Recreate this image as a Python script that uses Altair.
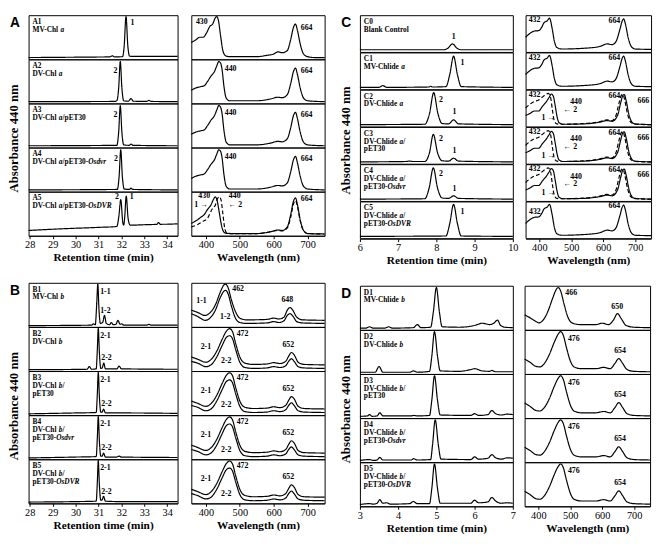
import altair as alt
import pandas as pd

# ============ Panel A : chromatograms (retention time, min) ============
A_samples = ["A1", "A2", "A3", "A4", "A5"]
# sample labels: lines made of (text, italic) pieces
A_names = [[[("A1", 0)], [("MV-Chl ", 0), ("a", 1)]],
           [[("A2", 0)], [("DV-Chl ", 0), ("a", 1)]],
           [[("A3", 0)], [("DV-Chl ", 0), ("a", 1), ("/pET30", 0)]],
           [[("A4", 0)], [("DV-Chl ", 0), ("a", 1), ("/pET30-", 0), ("Osdvr", 1)]],
           [[("A5", 0)], [("DV-Chl ", 0), ("a", 1), ("/pET30-", 0), ("OsDVR", 1)]]]
A1_t = [27.95, 30.5, 31.5, 31.6, 31.7, 32.05, 32.12, 32.2, 32.28, 32.36, 32.7, 34.45]
A1_v = [0.04, 0.05, 0.055, 0.08, 0.055, 0.06, 0.30, 0.97, 0.30, 0.07, 0.065, 0.065]
A2_t = [27.95, 31.7, 31.8, 31.88, 31.95, 32.02, 32.1, 32.3, 32.42, 32.52, 33.1, 33.2, 33.3, 34.45]
A2_v = [0.04, 0.045, 0.06, 0.35, 0.95, 0.35, 0.06, 0.05, 0.11, 0.05, 0.045, 0.07, 0.045, 0.04]
A3_t = [27.95, 31.8, 31.88, 31.95, 32.02, 32.1, 32.35, 32.42, 32.5, 34.45]
A3_v = [0.04, 0.05, 0.35, 0.95, 0.35, 0.06, 0.05, 0.08, 0.05, 0.04]
A4_t = [27.95, 31.82, 31.9, 31.97, 32.04, 32.12, 32.35, 32.42, 32.5, 34.45]
A4_v = [0.04, 0.05, 0.35, 0.95, 0.35, 0.06, 0.05, 0.08, 0.05, 0.04]
A5_t = [27.95, 29.5, 31.0, 31.8, 31.89, 31.97, 32.06, 32.1, 32.14, 32.21, 32.29, 32.38, 33.0, 33.55, 33.62, 33.7, 34.45]
A5_v = [0.12, 0.16, 0.19, 0.21, 0.45, 0.82, 0.30, 0.24, 0.40, 0.90, 0.40, 0.24, 0.25, 0.26, 0.30, 0.26, 0.27]
A_chrom_peaks = [("A1", 32.48, 0.82, "1"), ("A2", 31.74, 0.74, "2"), ("A3", 31.74, 0.74, "2"),
                 ("A4", 31.76, 0.74, "2"), ("A5", 31.8, 0.88, "2"), ("A5", 32.45, 0.88, "1")]

# ============ Panel A : absorption spectra (wavelength, nm) ============
MVa_w = [357, 370, 382, 392, 402, 412, 420, 427, 432, 437, 443, 450, 458, 470, 550, 580, 600, 612, 625, 640, 650, 658, 664, 670, 678, 688, 700, 720, 750]
MVa_a = [0.38, 0.44, 0.50, 0.50, 0.60, 0.75, 0.80, 0.93, 0.97, 0.88, 0.55, 0.20, 0.08, 0.06, 0.06, 0.09, 0.12, 0.17, 0.15, 0.20, 0.45, 0.72, 0.80, 0.65, 0.35, 0.12, 0.06, 0.04, 0.04]
DVa_w = [357, 370, 385, 395, 405, 415, 425, 432, 438, 443, 448, 453, 460, 470, 550, 590, 612, 625, 640, 650, 658, 664, 670, 678, 688, 700, 750]
DVa_a = [0.30, 0.35, 0.38, 0.40, 0.50, 0.62, 0.72, 0.85, 0.95, 0.92, 0.75, 0.40, 0.12, 0.06, 0.06, 0.10, 0.14, 0.13, 0.20, 0.45, 0.72, 0.80, 0.65, 0.35, 0.12, 0.06, 0.04]
A5s_w = [357, 375, 385, 395, 405, 415, 422, 428, 433, 440, 447, 455, 470, 550, 590, 612, 625, 640, 650, 658, 664, 670, 678, 688, 700, 750]
A5s_a = [0.28, 0.36, 0.42, 0.48, 0.60, 0.70, 0.82, 0.88, 0.80, 0.50, 0.20, 0.07, 0.05, 0.05, 0.09, 0.13, 0.12, 0.20, 0.48, 0.78, 0.86, 0.70, 0.36, 0.12, 0.05, 0.04]
A5d_w = [357, 375, 390, 405, 418, 428, 435, 440, 445, 450, 456, 462, 475, 550, 590, 612, 625, 640, 650, 658, 664, 670, 678, 688, 700, 750]
A5d_a = [0.20, 0.25, 0.32, 0.40, 0.60, 0.70, 0.85, 0.88, 0.80, 0.50, 0.15, 0.06, 0.05, 0.05, 0.09, 0.12, 0.11, 0.18, 0.42, 0.72, 0.80, 0.66, 0.34, 0.11, 0.05, 0.04]
A_spec_peaks = [("A1", 388, 0.84, "430"), ("A1", 697, 0.72, "664"),
                ("A2", 473, 0.78, "440"), ("A2", 697, 0.74, "664"),
                ("A3", 473, 0.78, "440"), ("A3", 697, 0.74, "664"),
                ("A4", 473, 0.78, "440"), ("A4", 697, 0.74, "664"),
                ("A5", 395, 0.9, "430"), ("A5", 485, 0.9, "440"), ("A5", 386, 0.7, "1 →"),
                ("A5", 487, 0.7, "← 2"), ("A5", 697, 0.84, "664")]

# ============ Panel B ============
B_samples = ["B1", "B2", "B3", "B4", "B5"]
B_names = [[[("B1", 0)], [("MV-Chl ", 0), ("b", 1)]],
           [[("B2", 0)], [("DV-Chl ", 0), ("b", 1)]],
           [[("B3", 0)], [("DV-Chl ", 0), ("b", 1), ("/", 0)], [("pET30", 0)]],
           [[("B4", 0)], [("DV-Chl ", 0), ("b", 1), ("/", 0)], [("pET30-", 0), ("Osdvr", 1)]],
           [[("B5", 0)], [("DV-Chl ", 0), ("b", 1), ("/", 0)], [("pET30-", 0), ("OsDVR", 1)]]]
B1_t = [27.95, 30.7, 30.78, 30.86, 30.92, 30.97, 31.02, 31.08, 31.18, 31.26, 31.34, 31.48, 31.56, 31.64, 31.76, 31.85, 31.94, 32.02, 32.1, 33.1, 33.2, 33.3, 34.45]
B1_v = [0.03, 0.04, 0.07, 0.05, 0.50, 0.97, 0.40, 0.08, 0.10, 0.26, 0.08, 0.05, 0.10, 0.05, 0.06, 0.15, 0.06, 0.07, 0.04, 0.04, 0.06, 0.04, 0.04]
B2_t = [27.95, 30.5, 30.6, 30.7, 30.9, 30.95, 30.99, 31.04, 31.1, 31.16, 31.23, 31.3, 31.8, 31.9, 32.0, 34.45]
B2_v = [0.03, 0.04, 0.10, 0.04, 0.05, 0.50, 0.97, 0.40, 0.06, 0.07, 0.18, 0.05, 0.05, 0.11, 0.05, 0.04]
B3_t = [27.95, 30.0, 30.9, 30.95, 30.99, 31.04, 31.1, 31.16, 31.22, 31.3, 32.0, 34.45]
B3_v = [0.03, 0.05, 0.06, 0.50, 0.97, 0.40, 0.07, 0.07, 0.14, 0.05, 0.05, 0.04]
B4_t = [27.95, 30.0, 30.9, 30.95, 30.99, 31.04, 31.1, 31.16, 31.22, 31.3, 31.8, 31.9, 32.0, 34.45]
B4_v = [0.03, 0.05, 0.06, 0.50, 0.97, 0.40, 0.07, 0.07, 0.14, 0.05, 0.05, 0.07, 0.05, 0.04]
B5_t = [27.95, 30.0, 30.9, 30.95, 30.99, 31.04, 31.1, 31.16, 31.22, 31.3, 32.0, 34.45]
B5_v = [0.03, 0.04, 0.05, 0.50, 0.97, 0.40, 0.07, 0.08, 0.16, 0.05, 0.04, 0.04]
B_chrom_peaks = [("B1", 31.3, 0.8, "1-1"), ("B1", 31.3, 0.36, "1-2"),
                 ("B2", 31.3, 0.8, "2-1"), ("B2", 31.35, 0.3, "2-2"),
                 ("B3", 31.3, 0.8, "2-1"), ("B3", 31.35, 0.26, "2-2"),
                 ("B4", 31.3, 0.8, "2-1"), ("B4", 31.35, 0.26, "2-2"),
                 ("B5", 31.3, 0.8, "2-1"), ("B5", 31.35, 0.26, "2-2")]
MVb1_w = [357, 375, 398, 412, 428, 442, 452, 458, 465, 475, 487, 500, 520, 580, 600, 615, 630, 640, 648, 656, 668, 685, 750]
MVb1_a = [0.38, 0.33, 0.26, 0.32, 0.50, 0.78, 0.94, 0.97, 0.90, 0.62, 0.35, 0.20, 0.16, 0.17, 0.20, 0.18, 0.22, 0.38, 0.44, 0.38, 0.22, 0.16, 0.15]
MVb2_a = [0.30, 0.24, 0.15, 0.20, 0.38, 0.66, 0.80, 0.83, 0.76, 0.48, 0.20, 0.10, 0.08, 0.09, 0.12, 0.10, 0.14, 0.26, 0.30, 0.25, 0.12, 0.09, 0.08]
DVb1_w = [357, 375, 400, 415, 432, 448, 460, 470, 478, 488, 500, 515, 540, 580, 600, 618, 635, 645, 652, 660, 672, 690, 750]
DVb1_a = [0.32, 0.27, 0.20, 0.26, 0.45, 0.72, 0.90, 0.96, 0.90, 0.62, 0.32, 0.18, 0.15, 0.16, 0.19, 0.17, 0.22, 0.35, 0.42, 0.37, 0.20, 0.15, 0.14]
DVb2_a = [0.22, 0.18, 0.10, 0.14, 0.32, 0.58, 0.76, 0.80, 0.74, 0.48, 0.20, 0.08, 0.06, 0.07, 0.10, 0.08, 0.12, 0.23, 0.28, 0.22, 0.10, 0.07, 0.06]
B_spec_peaks = [("B1", 495, 0.85, "462"), ("B1", 640, 0.6, "648"), ("B1", 387, 0.58, "1-1"), ("B1", 457, 0.22, "1-2")]
for _s in ["B2", "B3", "B4", "B5"]:
    B_spec_peaks += [(_s, 508, 0.84, "472"), (_s, 643, 0.6, "652"), (_s, 400, 0.55, "2-1"), (_s, 460, 0.22, "2-2")]

# ============ Panel C ============
C_samples = ["C0", "C1", "C2", "C3", "C4", "C5"]
C_names = [[[("C0", 0)], [("Blank Control", 0)]],
           [[("C1", 0)], [("MV-Chlide ", 0), ("a", 1)]],
           [[("C2", 0)], [("DV-Chlide ", 0), ("a", 1)]],
           [[("C3", 0)], [("DV-Chlide ", 0), ("a", 1), ("/", 0)], [("pET30", 0)]],
           [[("C4", 0)], [("DV-Chlide ", 0), ("a", 1), ("/", 0)], [("pET30-", 0), ("Osdvr", 1)]],
           [[("C5", 0)], [("DV-Chlide ", 0), ("a", 1), ("/", 0)], [("pET30-", 0), ("OsDVR", 1)]]]
C0_t = [6.0, 8.2, 8.3, 8.42, 8.54, 8.65, 10.0]
C0_v = [0.06, 0.06, 0.10, 0.22, 0.10, 0.06, 0.06]
C1_t = [6.0, 6.5, 6.6, 6.7, 7.8, 7.85, 7.9, 8.25, 8.35, 8.45, 8.55, 8.65, 10.0]
C1_v = [0.05, 0.05, 0.10, 0.05, 0.06, 0.08, 0.06, 0.07, 0.40, 0.90, 0.40, 0.07, 0.05]
C2_t = [6.0, 7.7, 7.82, 7.93, 8.04, 8.15, 8.32, 8.45, 8.58, 10.0]
C2_v = [0.05, 0.06, 0.35, 0.92, 0.35, 0.08, 0.07, 0.18, 0.07, 0.05]
C3_t = [6.0, 7.2, 7.3, 7.4, 7.7, 7.82, 7.92, 8.03, 8.15, 8.32, 8.45, 8.58, 10.0]
C3_v = [0.05, 0.06, 0.07, 0.06, 0.06, 0.30, 0.80, 0.30, 0.08, 0.07, 0.15, 0.07, 0.05]
C4_t = [6.0, 7.7, 7.81, 7.92, 8.03, 8.15, 8.32, 8.45, 8.58, 10.0]
C4_v = [0.05, 0.06, 0.35, 0.90, 0.35, 0.08, 0.07, 0.14, 0.07, 0.05]
C5_t = [6.0, 8.25, 8.35, 8.45, 8.55, 8.65, 10.0]
C5_v = [0.05, 0.06, 0.40, 0.92, 0.40, 0.06, 0.05]
C_chrom_peaks = [("C0", 8.45, 0.4, "1"), ("C1", 8.68, 0.72, "1"), ("C2", 8.12, 0.72, "2"), ("C2", 8.47, 0.38, "1"),
                 ("C3", 8.12, 0.68, "2"), ("C3", 8.47, 0.34, "1"), ("C4", 8.12, 0.72, "2"), ("C4", 8.47, 0.32, "1"),
                 ("C5", 8.68, 0.72, "1")]
MVca_w = [357, 370, 385, 398, 408, 415, 425, 432, 440, 447, 455, 470, 540, 590, 612, 628, 640, 652, 660, 664, 670, 678, 688, 700, 750]
MVca_a = [0.40, 0.50, 0.57, 0.58, 0.68, 0.80, 0.85, 0.92, 0.65, 0.30, 0.12, 0.08, 0.10, 0.15, 0.22, 0.20, 0.28, 0.60, 0.85, 0.90, 0.75, 0.40, 0.15, 0.08, 0.07]
C2d_w = [357, 370, 385, 398, 410, 420, 428, 435, 441, 447, 455, 470, 540, 590, 612, 628, 640, 650, 657, 662, 668, 676, 686, 700, 750]
C2d_a = [0.50, 0.60, 0.68, 0.72, 0.80, 0.87, 0.90, 0.80, 0.45, 0.15, 0.07, 0.06, 0.08, 0.13, 0.18, 0.16, 0.30, 0.65, 0.85, 0.87, 0.70, 0.35, 0.12, 0.06, 0.05]
C2s_w = [357, 370, 385, 398, 410, 420, 430, 438, 444, 450, 456, 462, 475, 540, 590, 612, 628, 645, 655, 662, 666, 672, 680, 690, 700, 750]
C2s_a = [0.30, 0.35, 0.42, 0.42, 0.55, 0.65, 0.78, 0.88, 0.82, 0.55, 0.25, 0.10, 0.06, 0.07, 0.12, 0.16, 0.14, 0.30, 0.65, 0.85, 0.87, 0.70, 0.35, 0.12, 0.07, 0.05]
C_spec_peaks = [("C0", 385, 0.86, "432"), ("C0", 635, 0.84, "664"),
                ("C1", 385, 0.86, "432"), ("C1", 635, 0.84, "664"),
                ("C5", 386, 0.72, "432"), ("C5", 635, 0.87, "664")]
for _s in ["C2", "C3", "C4"]:
    C_spec_peaks += [(_s, 385, 0.86, "432"), (_s, 515, 0.66, "440"), (_s, 497, 0.45, "← 2"),
                     (_s, 428, 0.22, "1 →"), (_s, 635, 0.84, "664"), (_s, 726, 0.7, "666")]

# ============ Panel D ============
D_samples = ["D1", "D2", "D3", "D4", "D5"]
D_names = [[[("D1", 0)], [("MV-Chlide ", 0), ("b", 1)]],
           [[("D2", 0)], [("DV-Chlide ", 0), ("b", 1)]],
           [[("D3", 0)], [("DV-Chlide ", 0), ("b", 1), ("/", 0)], [("pET30", 0)]],
           [[("D4", 0)], [("DV-Chlide ", 0), ("b", 1), ("/", 0)], [("pET30-", 0), ("Osdvr", 1)]],
           [[("D5", 0)], [("DV-Chlide ", 0), ("b", 1), ("/", 0)], [("pET30-", 0), ("OsDVR", 1)]]]
D1_t = [3.0, 3.15, 3.25, 3.35, 3.65, 3.75, 3.85, 4.4, 4.5, 4.6, 4.85, 4.92, 5.0, 5.08, 5.15, 5.6, 6.0, 6.2, 6.4, 6.5, 6.6, 6.68, 6.8, 7.0]
D1_v = [0.04, 0.04, 0.07, 0.04, 0.04, 0.07, 0.04, 0.05, 0.12, 0.05, 0.06, 0.40, 0.96, 0.40, 0.07, 0.06, 0.10, 0.15, 0.12, 0.15, 0.22, 0.10, 0.06, 0.05]
D2_t = [3.0, 3.4, 3.5, 3.6, 4.3, 4.4, 4.5, 4.82, 4.88, 4.95, 5.03, 5.1, 5.6, 5.9, 6.0, 6.2, 6.4, 6.45, 6.55, 7.0]
D2_v = [0.04, 0.04, 0.17, 0.04, 0.04, 0.07, 0.04, 0.06, 0.40, 0.96, 0.40, 0.07, 0.06, 0.10, 0.12, 0.07, 0.06, 0.08, 0.05, 0.05]
D3_t = [3.0, 3.2, 3.25, 3.32, 3.45, 3.52, 3.6, 4.35, 4.4, 4.5, 4.82, 4.88, 4.95, 5.03, 5.1, 5.9, 6.0, 6.1, 6.35, 6.45, 6.55, 6.7, 6.85, 7.0]
D3_v = [0.04, 0.05, 0.08, 0.04, 0.05, 0.12, 0.05, 0.05, 0.06, 0.05, 0.06, 0.40, 0.96, 0.40, 0.07, 0.06, 0.10, 0.06, 0.08, 0.17, 0.10, 0.07, 0.09, 0.08]
D4_t = [3.0, 3.25, 3.35, 3.45, 3.52, 3.6, 4.35, 4.4, 4.5, 4.85, 4.9, 4.97, 5.05, 5.12, 5.9, 6.0, 6.1, 6.35, 6.45, 6.55, 6.7, 6.85, 7.0]
D4_v = [0.04, 0.06, 0.04, 0.05, 0.11, 0.05, 0.05, 0.08, 0.05, 0.06, 0.40, 0.96, 0.40, 0.07, 0.06, 0.12, 0.07, 0.09, 0.17, 0.10, 0.07, 0.10, 0.09]
D5_t = [3.0, 3.25, 3.35, 3.45, 3.52, 3.6, 3.7, 3.8, 4.3, 4.4, 4.5, 4.82, 4.88, 4.95, 5.03, 5.1, 5.9, 6.0, 6.1, 6.35, 6.45, 6.55, 6.7, 6.85, 7.0]
D5_v = [0.04, 0.06, 0.05, 0.07, 0.15, 0.07, 0.08, 0.05, 0.06, 0.11, 0.06, 0.06, 0.40, 0.96, 0.40, 0.07, 0.07, 0.14, 0.08, 0.10, 0.20, 0.12, 0.07, 0.08, 0.07]
MVcb_w = [357, 375, 390, 402, 415, 430, 445, 455, 462, 470, 480, 492, 505, 530, 580, 600, 620, 635, 648, 660, 675, 700, 750]
MVcb_a = [0.34, 0.27, 0.20, 0.16, 0.22, 0.42, 0.72, 0.90, 0.96, 0.88, 0.60, 0.30, 0.16, 0.12, 0.12, 0.15, 0.12, 0.22, 0.37, 0.25, 0.10, 0.06, 0.05]
DVcb_w = [357, 375, 390, 405, 420, 435, 450, 462, 470, 478, 488, 500, 512, 535, 580, 605, 625, 640, 652, 664, 678, 700, 750]
DVcb_a = [0.34, 0.26, 0.18, 0.16, 0.25, 0.45, 0.72, 0.90, 0.96, 0.88, 0.60, 0.30, 0.16, 0.12, 0.12, 0.15, 0.12, 0.24, 0.35, 0.24, 0.10, 0.06, 0.05]
D_spec_peaks = [("D1", 503, 0.83, "466"), ("D1", 647, 0.52, "650")]
for _s in ["D2", "D3", "D4", "D5"]:
    D_spec_peaks += [(_s, 511, 0.8, "476"), (_s, 656, 0.52, "654")]

# ---------------------------------------------------------------------
SERIF = "Liberation Serif"
NAME_FS = 7.5
NAME_LH = 8.0
# Times bold / bold-italic advance widths (per 1000 em) for laying out mixed-style labels
BOLD_W = {"A": 722, "B": 667, "C": 722, "D": 722, "E": 667, "M": 944, "V": 722, "T": 667, "O": 778, "R": 722,
          "a": 500, "b": 556, "c": 444, "d": 556, "e": 444, "h": 556, "i": 278, "k": 556, "l": 278, "n": 556,
          "o": 500, "p": 556, "r": 444, "s": 389, "t": 333, "v": 500, "-": 333, "/": 278, " ": 250}
ITAL_W = {"a": 500, "b": 500, "d": 500, "r": 389, "s": 389, "v": 444, "O": 722, "D": 722, "V": 667, "R": 667}


def seg_width(text, italic):
    table = ITAL_W if italic else BOLD_W
    return sum(table.get(ch, 500) for ch in text) / 1000.0 * NAME_FS


def build(samples, names, curves, peaks, letter, dom, w, h):
    rows = []
    span = dom[1] - dom[0]
    for s, lines in zip(samples, names):
        for li, line in enumerate(lines):
            off = 4.0
            for txt, it in line:
                rows.append(dict(sample=s, kind="ital" if it else "name", x=dom[0] + off * span / w,
                                 y=1.0 - (3.0 + NAME_LH * li) / h, text=txt, series="n", dash="solid"))
                off += seg_width(txt, it)
    for s, ser, dash, xs, ys in curves:
        for a, b in zip(xs, ys):
            rows.append(dict(sample=s, kind="curve", x=a, y=b, text="", series=ser, dash=dash))
    for s, a, b, t in peaks:
        rows.append(dict(sample=s, kind="peak", x=a, y=b, text=t, series="p", dash="solid"))
    if letter:
        rows.append(dict(sample=samples[0], kind="letter", x=dom[0], y=1.0, text=letter, series="l", dash="solid"))
    return pd.DataFrame(rows)


def column(df, samples, dom, ticks, w, h, xtitle, with_names, ytitle):
    xenc = alt.X("x:Q", scale=alt.Scale(domain=dom, nice=False, zero=False),
                 axis=alt.Axis(values=ticks, title=xtitle, format="d"))
    yenc = alt.Y("y:Q", scale=alt.Scale(domain=[0, 1], nice=False, zero=False), axis=None)
    base = alt.Chart().encode(x=xenc, y=yenc)
    line = base.mark_line(color="black", strokeWidth=1.2, interpolate="monotone").encode(
        detail="series:N",
        strokeDash=alt.StrokeDash("dash:N", scale=alt.Scale(domain=["solid", "dashed"], range=[[1, 0], [4, 2.5]]),
                                  legend=None),
    ).transform_filter(alt.datum.kind == "curve")
    peaks = base.mark_text(font=SERIF, fontWeight="bold", fontSize=8, color="black",
                           align="center", baseline="middle").encode(text="text:N").transform_filter(
        alt.datum.kind == "peak")
    layers = [line, peaks]
    if with_names:
        names = base.mark_text(font=SERIF, fontWeight="bold", fontSize=NAME_FS, color="black", align="left",
                               baseline="top").encode(text="text:N").transform_filter(alt.datum.kind == "name")
        itals = base.mark_text(font=SERIF, fontWeight="bold", fontStyle="italic", fontSize=NAME_FS, color="black",
                               align="left", baseline="top").encode(text="text:N").transform_filter(
            alt.datum.kind == "ital")
        letter = base.mark_text(font="Liberation Sans", fontWeight="bold", fontSize=14, color="black",
                                align="left", baseline="top", dx=-19, dy=1).encode(text="text:N").transform_filter(
            alt.datum.kind == "letter")
        layers += [names, itals, letter]
    ch = alt.layer(*layers).properties(width=w, height=h).facet(
        row=alt.Row("sample:N", sort=samples, header=None), data=df, spacing=0, bounds="flush")
    if ytitle:
        ch = ch.properties(title=alt.TitleParams("Absorbance 440 nm", orient="left", anchor="middle", font=SERIF,
                                                 fontSize=13, fontWeight="bold", color="black", offset=-12))
    return ch


RT = "Retention time (min)"
WL = "Wavelength (nm)"
WT = [400, 500, 600, 700]
WD = [357, 750]
TA = [27.95, 34.45]
TC = [6, 10]
TD = [3, 7]
HA, HB, HC, HD = 45, 45, 37.5, 45
WCA, WSA, WCC, WSC = 152, 136, 156, 128

A_chrom = build(A_samples, A_names, [("A1", "m", "solid", A1_t, A1_v), ("A2", "m", "solid", A2_t, A2_v),
                                     ("A3", "m", "solid", A3_t, A3_v), ("A4", "m", "solid", A4_t, A4_v),
                                     ("A5", "m", "solid", A5_t, A5_v)], A_chrom_peaks, "A", TA, WCA, HA)
A_spec = build(A_samples, [], [("A1", "m", "solid", MVa_w, MVa_a), ("A2", "m", "solid", DVa_w, DVa_a),
                               ("A3", "m", "solid", DVa_w, DVa_a), ("A4", "m", "solid", DVa_w, DVa_a),
                               ("A5", "m", "solid", A5s_w, A5s_a), ("A5", "d", "dashed", A5d_w, A5d_a)],
               A_spec_peaks, None, WD, WSA, HA)
B_chrom = build(B_samples, B_names, [("B1", "m", "solid", B1_t, B1_v), ("B2", "m", "solid", B2_t, B2_v),
                                     ("B3", "m", "solid", B3_t, B3_v), ("B4", "m", "solid", B4_t, B4_v),
                                     ("B5", "m", "solid", B5_t, B5_v)], B_chrom_peaks, "B", TA, WCA, HB)
B_curves = [("B1", "u", "solid", MVb1_w, MVb1_a), ("B1", "l", "solid", MVb1_w, MVb2_a)]
for _s in ["B2", "B3", "B4", "B5"]:
    B_curves += [(_s, "u", "solid", DVb1_w, DVb1_a), (_s, "l", "solid", DVb1_w, DVb2_a)]
B_spec = build(B_samples, [], B_curves, B_spec_peaks, None, WD, WSA, HB)
C_chrom = build(C_samples, C_names, [("C0", "m", "solid", C0_t, C0_v), ("C1", "m", "solid", C1_t, C1_v),
                                     ("C2", "m", "solid", C2_t, C2_v), ("C3", "m", "solid", C3_t, C3_v),
                                     ("C4", "m", "solid", C4_t, C4_v), ("C5", "m", "solid", C5_t, C5_v)],
                C_chrom_peaks, "C", TC, WCC, HC)
C_curves = [("C0", "m", "solid", MVca_w, MVca_a), ("C1", "m", "solid", MVca_w, MVca_a),
            ("C5", "m", "solid", MVca_w, MVca_a)]
for _s in ["C2", "C3", "C4"]:
    C_curves += [(_s, "s", "solid", C2s_w, C2s_a), (_s, "d", "dashed", C2d_w, C2d_a)]
C_spec = build(C_samples, [], C_curves, C_spec_peaks, None, WD, WSC, HC)
D_chrom = build(D_samples, D_names, [("D1", "m", "solid", D1_t, D1_v), ("D2", "m", "solid", D2_t, D2_v),
                                     ("D3", "m", "solid", D3_t, D3_v), ("D4", "m", "solid", D4_t, D4_v),
                                     ("D5", "m", "solid", D5_t, D5_v)], [], "D", TD, WCC, HD)
D_spec = build(D_samples, [], [("D1", "m", "solid", MVcb_w, MVcb_a)] +
               [(s, "m", "solid", DVcb_w, DVcb_a) for s in ["D2", "D3", "D4", "D5"]], D_spec_peaks, None, WD, WSC, HD)

pA = alt.hconcat(column(A_chrom, A_samples, TA, list(range(28, 35)), WCA, HA, RT, True, True),
                 column(A_spec, A_samples, WD, WT, WSA, HA, WL, False, False), spacing=8)
pB = alt.hconcat(column(B_chrom, B_samples, TA, list(range(28, 35)), WCA, HB, RT, True, True),
                 column(B_spec, B_samples, WD, WT, WSA, HB, WL, False, False), spacing=8)
pC = alt.hconcat(column(C_chrom, C_samples, TC, [6, 7, 8, 9, 10], WCC, HC, RT, True, True),
                 column(C_spec, C_samples, WD, WT, WSC, HC, WL, False, False), spacing=4)
pD = alt.hconcat(column(D_chrom, D_samples, TD, [3, 4, 5, 6, 7], WCC, HD, RT, True, True),
                 column(D_spec, D_samples, WD, WT, WSC, HD, WL, False, False), spacing=6)

chart = alt.hconcat(alt.vconcat(pA, pB, spacing=18), alt.vconcat(pC, pD, spacing=18), spacing=12, padding=0)
chart = chart.configure_view(stroke="black", strokeWidth=1).configure_axis(
    grid=False, labelFont=SERIF, labelFontSize=10.5, labelColor="black", labelPadding=1, labelFlush=False,
    titleFont=SERIF, titleFontSize=11.5, titleFontWeight="bold", titleColor="black", titlePadding=2,
    tickColor="black", tickSize=3, domainColor="black")

chart.save("out.html", embed_options={"renderer": "svg", "actions": False})
